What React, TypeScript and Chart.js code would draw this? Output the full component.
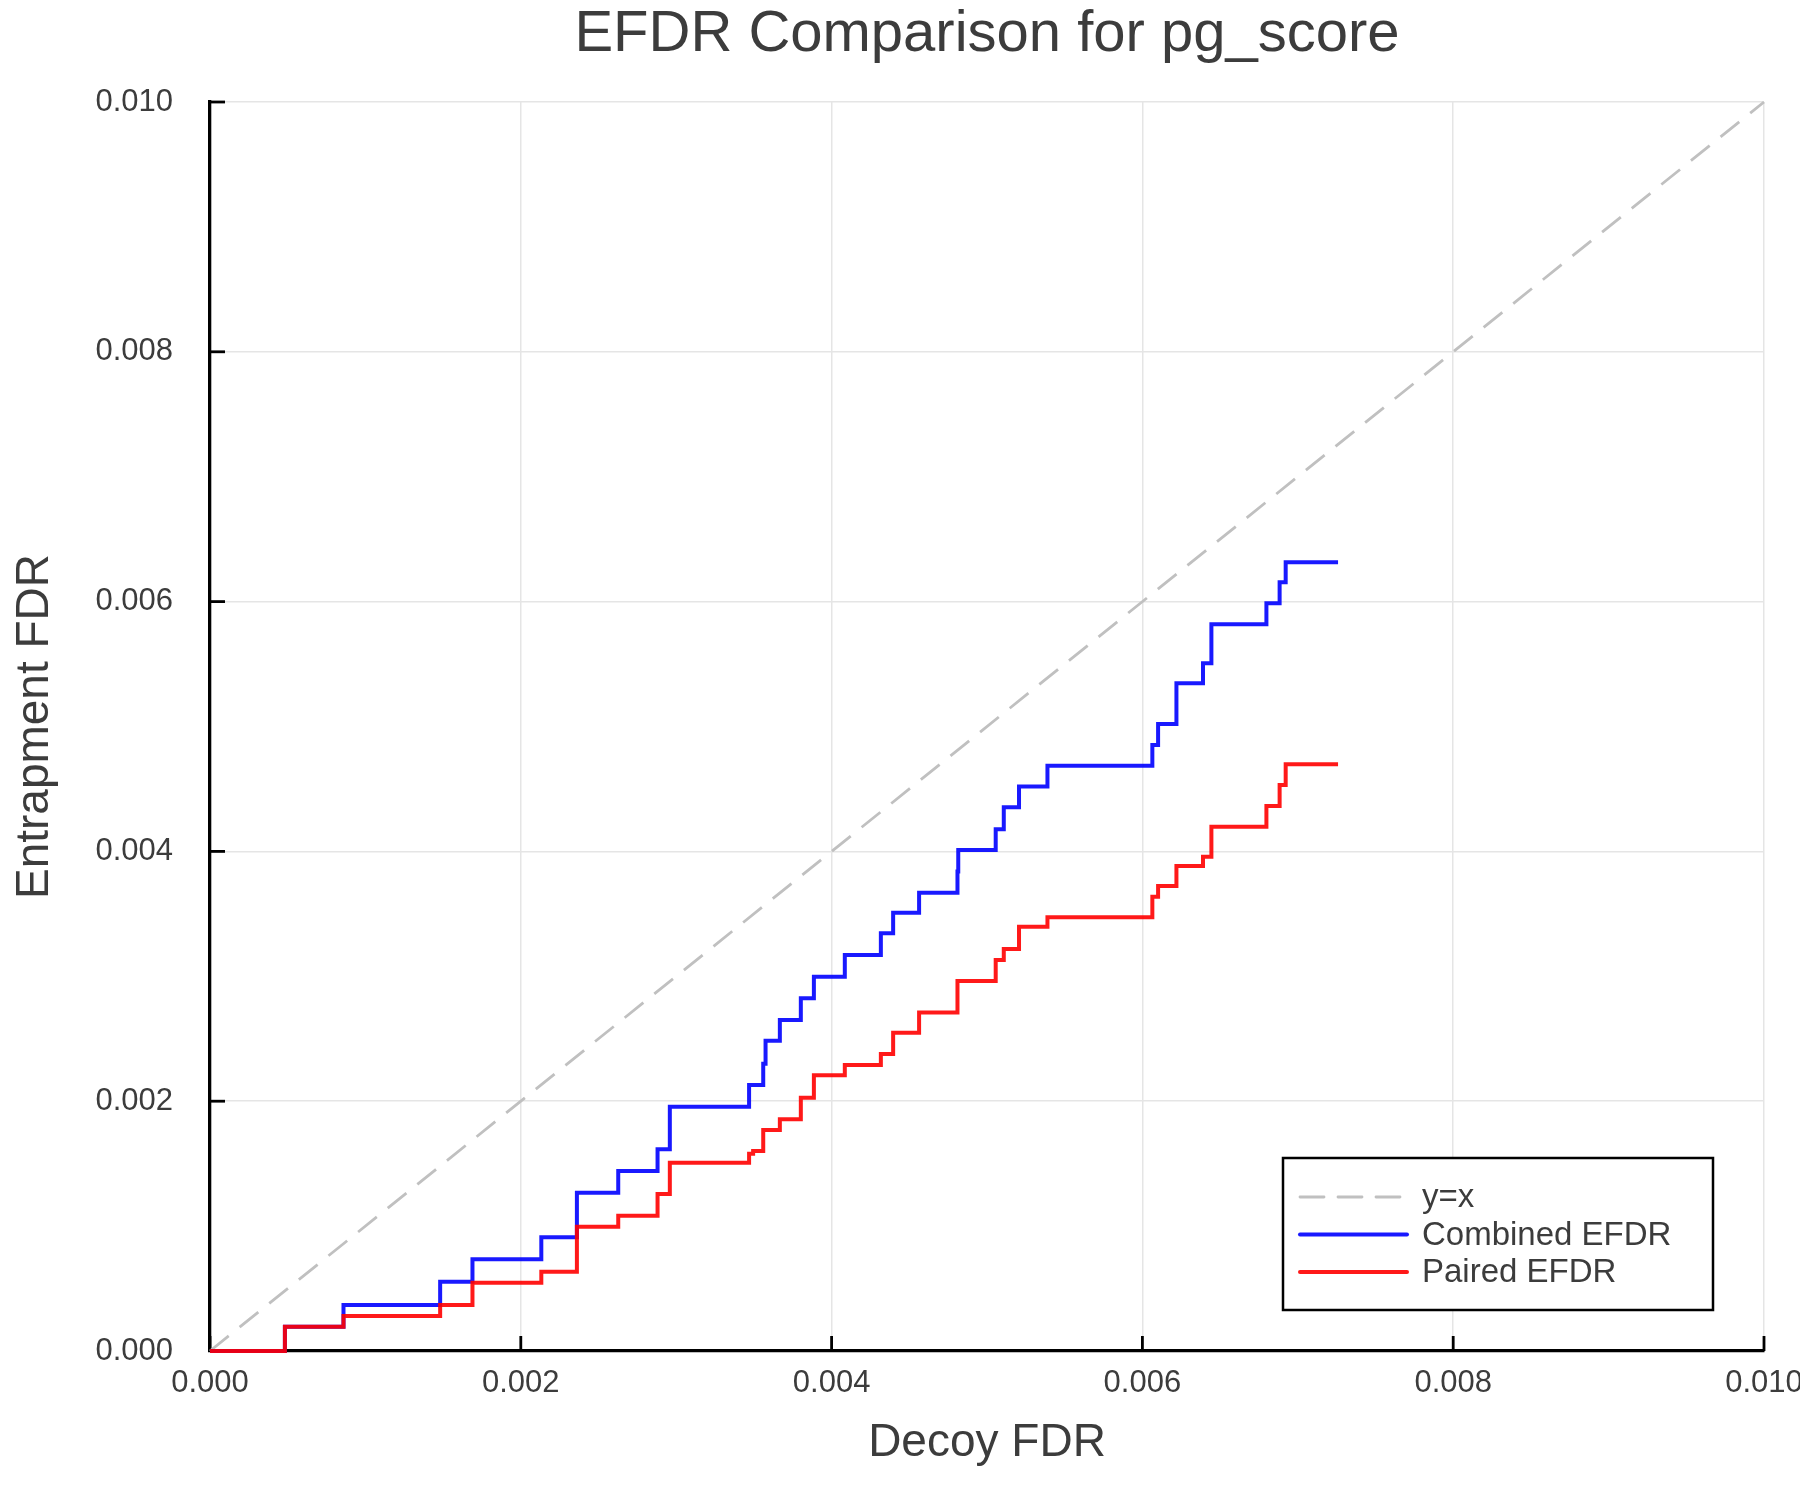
import React, { useEffect, useRef } from 'react';
import { Chart, registerables } from 'chart.js';

Chart.register(...registerables);

// ---- data ----
const decoyFdr = [
  0, 0.000482, 0.000859, 0.001481, 0.001689, 0.002132, 0.002361, 0.002627, 0.00288, 0.002959,
  0.003469, 0.003495, 0.00356, 0.003575, 0.003667, 0.003802, 0.003886, 0.004085, 0.004317, 0.004396,
  0.004563, 0.00481, 0.004815, 0.005056, 0.005108, 0.005206, 0.005389, 0.006064, 0.006101, 0.006219,
  0.00639, 0.006444, 0.006798, 0.006883, 0.006922, 0.007259,
];
const combinedEfdr = [
  0, 0.000195, 0.000368, 0.000555, 0.000734, 0.00091, 0.001268, 0.001441, 0.001615, 0.001956,
  0.00213, 0.00213, 0.0023, 0.002484, 0.00265, 0.002824, 0.002997, 0.00317, 0.003344, 0.003509,
  0.003669, 0.00384, 0.004011, 0.004177, 0.004353, 0.00452, 0.004686, 0.004852, 0.00502, 0.005346,
  0.005506, 0.005818, 0.005986, 0.006154, 0.006315, 0.006315,
];
const pairedEfdr = [
  0, 0.000195, 0.00028, 0.000368, 0.000547, 0.000635, 0.000995, 0.001083, 0.001257, 0.001508,
  0.00158, 0.001601, 0.001769, 0.001769, 0.001855, 0.002028, 0.002207, 0.00229, 0.002378, 0.002549,
  0.002711, 0.002962, 0.002962, 0.003131, 0.003219, 0.003397, 0.003472, 0.003637, 0.003723, 0.003883,
  0.003958, 0.004198, 0.004363, 0.004532, 0.004697, 0.004697,
];
const diagonalX = [0, 0.01];
const diagonalY = [0, 0.01];
const tickValues = [0, 0.002, 0.004, 0.006, 0.008, 0.01];
const tickLabels = ['0.000', '0.002', '0.004', '0.006', '0.008', '0.010'];
const seriesNames = ['y=x', 'Combined EFDR', 'Paired EFDR'];
const chartTitle = 'EFDR Comparison for pg_score';
const xAxisTitle = 'Decoy FDR';
const yAxisTitle = 'Entrapment FDR';

const FONT = '"Liberation Sans", Arial, Helvetica, sans-serif';
const TEXT = '#3c3c3c';
const BLUE = 'rgba(0,0,255,0.9)';
const RED = 'rgba(255,0,0,0.9)';
const GRAY = '#c0c0c0';

const decorPlugin = {
  id: 'decor',
  beforeDatasetsDraw(chart: any) {
    const { ctx, chartArea, scales } = chart;
    ctx.save();
    ctx.strokeStyle = '#000';
    ctx.lineWidth = 2.8;
    scales.x.ticks.forEach((t: any) => {
      const px = scales.x.getPixelForValue(t.value);
      ctx.beginPath();
      ctx.moveTo(px, chartArea.bottom);
      ctx.lineTo(px, chartArea.bottom - 15);
      ctx.stroke();
    });
    scales.y.ticks.forEach((t: any) => {
      const py = scales.y.getPixelForValue(t.value);
      ctx.beginPath();
      ctx.moveTo(chartArea.left, py);
      ctx.lineTo(chartArea.left + 15, py);
      ctx.stroke();
    });
    ctx.restore();
  },
  afterDraw(chart: any) {
    const { ctx, chartArea } = chart;
    ctx.save();
    // title
    ctx.font = `58px ${FONT}`;
    ctx.fillStyle = TEXT;
    ctx.textAlign = 'center';
    ctx.textBaseline = 'middle';
    ctx.fillText(chartTitle, (chartArea.left + chartArea.right) / 2, 35);

    // legend
    const bx = chartArea.right - 481;
    const by = chartArea.bottom - 193;
    const bw = 430;
    const bh = 152;
    ctx.fillStyle = '#fff';
    ctx.fillRect(bx, by, bw, bh);
    ctx.strokeStyle = '#000';
    ctx.lineWidth = 2.5;
    ctx.strokeRect(bx, by, bw, bh);
    const ds = chart.data.datasets;
    ds.forEach((d: any, i: number) => {
      const y = by + 39 + i * 37.5;
      ctx.beginPath();
      ctx.strokeStyle = d.borderColor;
      ctx.lineWidth = d.borderWidth;
      ctx.setLineDash(d.borderDash || []);
      ctx.lineCap = 'round';
      ctx.moveTo(bx + 17, y);
      ctx.lineTo(bx + 124, y);
      ctx.stroke();
      ctx.setLineDash([]);
      ctx.font = `33px ${FONT}`;
      ctx.fillStyle = TEXT;
      ctx.textAlign = 'left';
      ctx.textBaseline = 'middle';
      ctx.fillText(d.label, bx + 139, y + 1);
    });
    ctx.restore();
  },
};

export default function App() {
  const ref = useRef<HTMLCanvasElement | null>(null);

  useEffect(() => {
    if (!ref.current) return;
    const pts = (xs: number[], ys: number[]) => xs.map((x, i) => ({ x, y: ys[i] }));
    const chart = new Chart(ref.current, {
      type: 'line',
      data: {
        datasets: [
          {
            label: seriesNames[0],
            data: pts(diagonalX, diagonalY),
            borderColor: GRAY,
            borderWidth: 2.8,
            borderDash: [24, 14],
            pointRadius: 0,
            fill: false,
            order: 3,
            clip: false,
          },
          {
            label: seriesNames[1],
            data: pts(decoyFdr, combinedEfdr),
            borderColor: BLUE,
            borderWidth: 4,
            stepped: 'before',
            pointRadius: 0,
            fill: false,
            order: 2,
            clip: false,
          },
          {
            label: seriesNames[2],
            data: pts(decoyFdr, pairedEfdr),
            borderColor: RED,
            borderWidth: 4,
            stepped: 'before',
            pointRadius: 0,
            fill: false,
            order: 1,
            clip: false,
          },
        ],
      } as any,
      options: {
        responsive: false,
        animation: false,
        devicePixelRatio: 1,
        layout: { padding: { left: 0, right: 36, top: 102, bottom: 0 } },
        plugins: {
          legend: { display: false },
          title: { display: false },
          tooltip: { enabled: false },
        },
        scales: {
          x: {
            type: 'linear',
            min: 0,
            max: 0.01,
            afterBuildTicks: (s: any) => {
              s.ticks = tickValues.map((v) => ({ value: v }));
            },
            afterFit: (s: any) => {
              s.height = 149;
              s.paddingLeft = 0;
              s.paddingRight = 0;
            },
            ticks: {
              callback: (_v: any, i: number) => tickLabels[i],
              font: { family: FONT, size: 31 },
              color: TEXT,
              padding: 14,
              maxRotation: 0,
              autoSkip: false,
            },
            grid: { color: '#e5e5e5', lineWidth: 1.5, drawTicks: false },
            border: { display: true, color: '#000', width: 3.3 },
            title: {
              display: true,
              text: xAxisTitle,
              font: { family: FONT, size: 46 },
              color: TEXT,
              padding: { top: 0, bottom: 29 },
            },
          },
          y: {
            type: 'linear',
            min: 0,
            max: 0.01,
            afterBuildTicks: (s: any) => {
              s.ticks = tickValues.map((v) => ({ value: v }));
            },
            afterFit: (s: any) => {
              s.width = 210;
              s.paddingTop = 0;
              s.paddingBottom = 0;
            },
            ticks: {
              callback: (_v: any, i: number) => tickLabels[i],
              font: { family: FONT, size: 31 },
              color: TEXT,
              padding: 37,
              autoSkip: false,
            },
            grid: { color: '#e5e5e5', lineWidth: 1.5, drawTicks: false },
            border: { display: true, color: '#000', width: 3.3 },
            title: {
              display: true,
              text: yAxisTitle,
              font: { family: FONT, size: 46 },
              color: TEXT,
              padding: { top: 8, bottom: 0 },
            },
          },
        },
      } as any,
      plugins: [decorPlugin],
    });
    return () => chart.destroy();
  }, []);

  return (
    <div style={{ position: 'absolute', left: 0, top: 0, width: 1800, height: 1500, background: '#fff' }}>
      <canvas ref={ref} width={1800} height={1500} style={{ width: 1800, height: 1500, display: 'block' }} />
    </div>
  );
}
